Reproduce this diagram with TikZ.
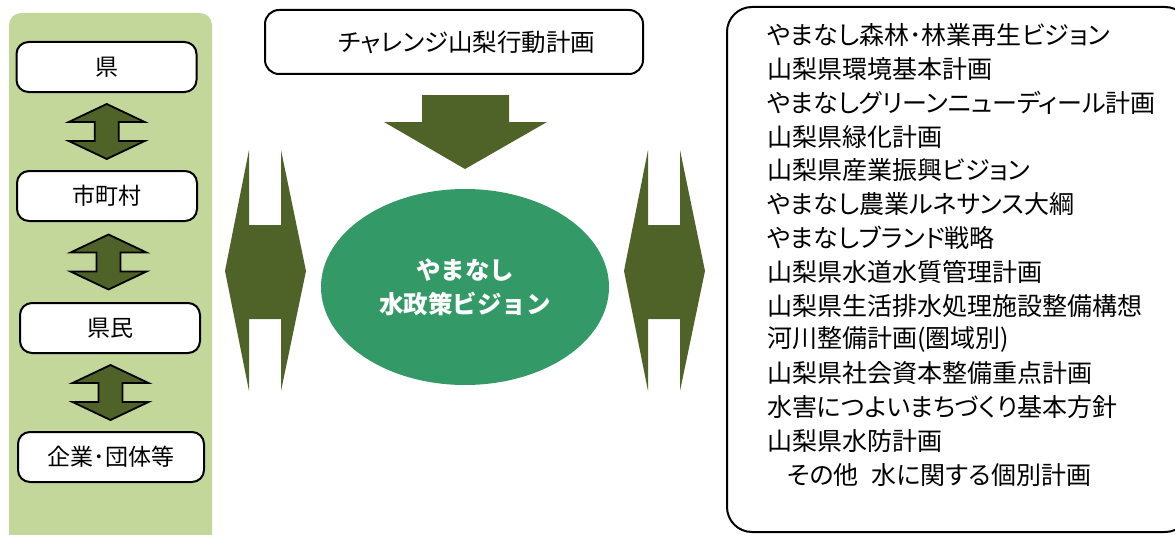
\documentclass[tikz,border=0pt]{standalone}
\usepackage{fontspec}
\setmainfont{Noto Sans CJK JP}
\newfontfamily\jp[RawFeature=+palt]{Noto Sans CJK JP}
\usetikzlibrary{calc,shapes.geometric}
\definecolor{panel}{HTML}{C4D79B}
\definecolor{olive}{HTML}{4F6228}
\definecolor{vgreen}{HTML}{339966}
\tikzset{
  unit/.style={draw,line width=2pt,rounded corners=12pt,fill=white,minimum width=180pt,minimum height=50pt,inner sep=0pt,font=\fontsize{23}{27}\selectfont},
  updown/.style={draw=black,line width=1.8pt,fill=olive},
  item/.style={anchor=west,inner sep=0pt,font=\jp\fontsize{25}{30}\selectfont}
}
\begin{document}
\begin{tikzpicture}[x=1pt,y=-1pt]
\useasboundingbox(0,0)rectangle(1175,535);
\fill[panel,rounded corners=12pt](9,13)rectangle(212,560);
\node[unit](pref)at(106.5,67){県};
\node[unit](city)at(107,196){市町村};
\node[unit](people)at(110,328){県民};
\node[unit,minimum width=186pt](corp)at(111,457){企業･団体等};
\foreach \a/\b in {pref/city,city/people,people/corp}
  \draw[updown]($(\a.south)!.5!(\b.north)$)++(0,-27.5)--++(-38,18)--++(26,0)--++(0,19)--++(-26,0)--++(38,18)--++(38,-18)--++(-26,0)--++(0,-19)--++(26,0)--cycle;
\node[draw,line width=2pt,rounded corners=14pt,minimum width=378pt,minimum height=64pt,font=\jp\fontsize{24.5}{28}\selectfont](plan)at(454,42){\hspace*{26pt}チャレンジ山梨行動計画};
\fill[olive](422,95)--(509,95)--(509,122)--(547,122)--(465,169)--(384,122)--(422,122)--cycle;
\foreach \s in {0,399}
  \fill[olive,xshift=\s](249,150)--(225,271)--(249,391)--(249,319)--(281,319)--(281,391)--(306,271)--(281,150)--(281,225)--(249,225)--cycle;
\node[ellipse,fill=vgreen,minimum width=288pt,minimum height=196pt,inner sep=0pt,text=white,align=center,font=\bfseries\fontsize{24.5}{34}\selectfont](vision)at(465,287){やまなし\\水政策ビジョン};
\draw[line width=2pt,rounded corners=25pt](727,7)rectangle(1190,532);
\foreach \t [count=\i] in {やまなし森林･林業再生ビジョン,山梨県環境基本計画,やまなしグリーンニューディール計画,山梨県緑化計画,山梨県産業振興ビジョン,やまなし農業ルネサンス大綱,やまなしブランド戦略,山梨県水道水質管理計画,山梨県生活排水処理施設整備構想,河川整備計画(圏域別),山梨県社会資本整備重点計画,水害につよいまちづくり基本方針,山梨県水防計画,{\hspace*{20pt}その他\hspace{13pt}水に関する個別計画}}
  \node[item](p\i)at(767,{35+33.85*(\i-1)}){\t};
\end{tikzpicture}
\end{document}
